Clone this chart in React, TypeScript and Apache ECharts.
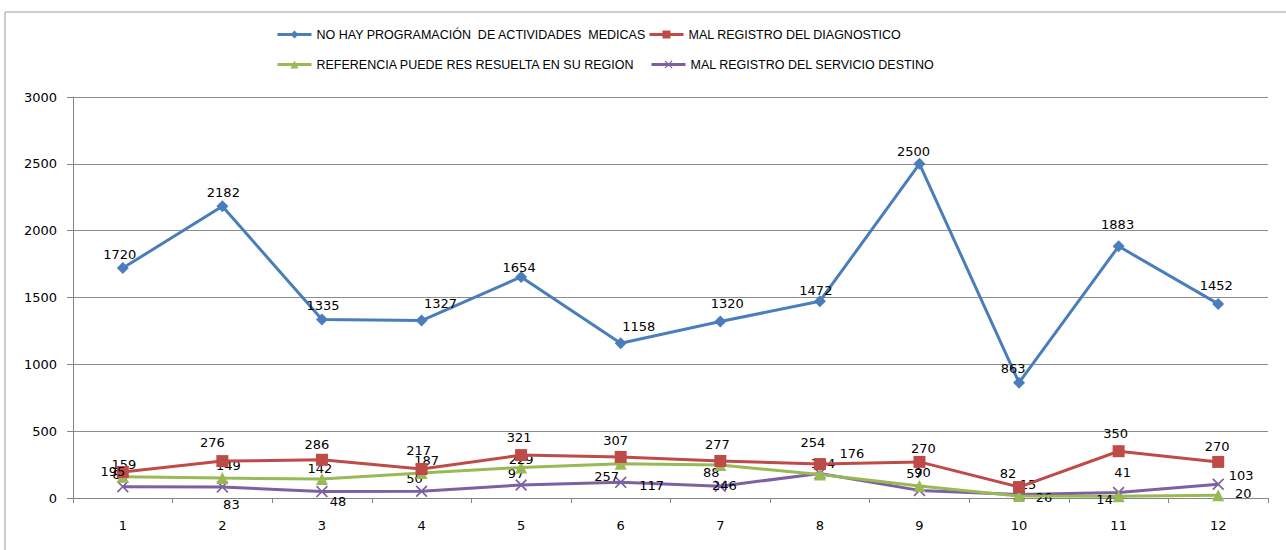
import React, { useEffect, useRef } from "react";
import * as echarts from "echarts";

const categories = ["1", "2", "3", "4", "5", "6", "7", "8", "9", "10", "11", "12"];
const seriesNames = [
  "NO HAY PROGRAMACIÓN  DE ACTIVIDADES  MEDICAS",
  "MAL REGISTRO DEL DIAGNOSTICO",
  "REFERENCIA PUEDE RES RESUELTA EN SU REGION",
  "MAL REGISTRO DEL SERVICIO DESTINO",
];
const noProgramacion = [1720, 2182, 1335, 1327, 1654, 1158, 1320, 1472, 2500, 863, 1883, 1452];
const malDiagnostico = [195, 276, 286, 217, 321, 307, 277, 254, 270, 82, 350, 270];
const referenciaRegion = [159, 149, 142, 187, 229, 257, 246, 176, 90, 15, 14, 20];
const malServicio = [85, 83, 48, 50, 97, 117, 88, 184, 57, 26, 41, 103];
const yTicks = [0, 500, 1000, 1500, 2000, 2500, 3000];

// label placement offsets (style only), relative to each marker
const blueOffsets = [[-3, -14], [1, -14], [1, -14], [19, -17], [-2, -9], [18, -17], [7, -18], [-4, -11], [-6, -12], [-6, -14], [-1, -22], [-2, -18]];
const redOffsets = [[-10, 0], [-10, -19], [-5, -15], [-3, -18], [-2, -18], [-5, -16], [-3, -16], [-7, -22], [4, -13], [-11, -14], [-3, -18], [-1, -15]];
const greenOffsets = [[1, -12], [6, -13], [-2, -11], [5, -13], [0, -8], [-14, 13], [4, 20], [32, -21], [3, -13], [9, -11], [-14, 3], [25, -2]];
const purpleOffsets = [[-2, -12], [9, 18], [16, 10], [-7, -13], [-5, -12], [31, 3], [-9, -14], [3, -10], [-5, -17], [25, 3], [4, -20], [23, -9]];

const colors = ["#4A7EBB", "#BE4B48", "#98B954", "#7D60A0"];
const crossPath = "path://M0,1 L1,0 L5,4 L9,0 L10,1 L6,5 L10,9 L9,10 L5,6 L1,10 L0,9 L4,5 Z";

function buildData(values: number[], offsets: number[][]) {
  return values.map((v, i) => ({
    value: v,
    label: { offset: offsets[i] },
  }));
}

export default function App() {
  const ref = useRef<HTMLDivElement>(null);
  useEffect(() => {
    if (!ref.current) return;
    const chart = echarts.init(ref.current, null, { renderer: "svg" });
    const labelBase = {
      show: true,
      position: "inside",
      color: "#000",
      fontFamily: "DejaVu Sans",
      fontSize: 13,
    };
    const mk = (idx: number, values: number[], offsets: number[][], symbol: string, size: number) => ({
      name: seriesNames[idx],
      type: "line",
      data: buildData(values, offsets),
      symbol,
      symbolSize: size,
      lineStyle: { width: 3, color: colors[idx] },
      itemStyle: { color: colors[idx] },
      label: labelBase,
      z: 10 - idx,
    });
    const legendText = { fontFamily: "Liberation Sans", fontSize: 12.5, color: "#000" };
    const legendPos = [
      [276, 28],
      [648, 28],
      [276, 58],
      [650, 58],
    ];
    chart.setOption({
      animation: false,
      color: colors,
      grid: { left: 73, right: 18, top: 97, bottom: 52, containLabel: false },
      legend: seriesNames.map((n, i) => ({
        data: [n],
        left: legendPos[i][0],
        top: legendPos[i][1],
        itemWidth: 34,
        itemHeight: 10,
        textStyle: legendText,
        lineStyle: { width: 3 },
        padding: 0,
      })),
      graphic: [
        {
          type: "rect",
          shape: { x: 5, y: 12, width: 1400, height: 700 },
          style: { fill: "none", stroke: "#9a9a9a", lineWidth: 1 },
          silent: true,
        },
      ],
      xAxis: {
        type: "category",
        data: categories,
        boundaryGap: true,
        axisLine: { lineStyle: { color: "#868686", width: 1 } },
        axisTick: { show: true, length: 5, lineStyle: { color: "#868686" } },
        axisLabel: { color: "#000", fontFamily: "DejaVu Sans", fontSize: 13, margin: 21 },
      },
      yAxis: {
        type: "value",
        min: yTicks[0],
        max: yTicks[yTicks.length - 1],
        interval: 500,
        axisLine: { show: true, lineStyle: { color: "#868686", width: 1 } },
        axisTick: { show: true, length: 6, lineStyle: { color: "#868686" } },
        axisLabel: {
          color: "#000",
          fontFamily: "DejaVu Sans",
          fontSize: 13,
          margin: 16,
          formatter: (v: number) => String(v),
        },
        splitLine: { show: true, lineStyle: { color: "#8c8c8c", width: 1 } },
      },
      series: [
        mk(0, noProgramacion, blueOffsets, "diamond", 12),
        mk(1, malDiagnostico, redOffsets, "rect", 12),
        mk(2, referenciaRegion, greenOffsets, "triangle", 12),
        mk(3, malServicio, purpleOffsets, crossPath, 12),
      ],
    });
    return () => chart.dispose();
  }, []);
  return (
    <div
      ref={ref}
      style={{ position: "absolute", left: 0, top: 0, width: 1286, height: 550, background: "#fff" }}
    />
  );
}
